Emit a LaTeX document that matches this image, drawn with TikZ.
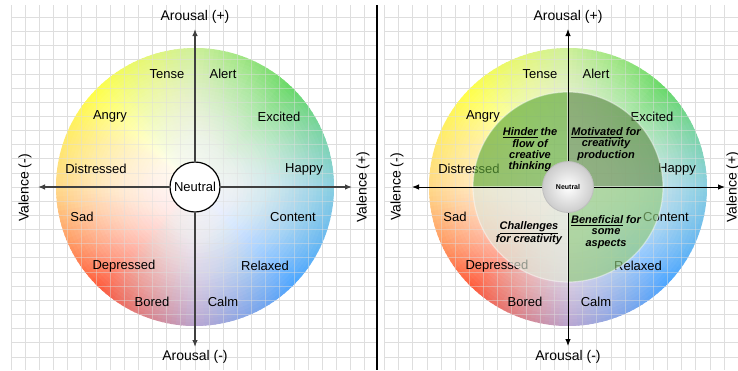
\documentclass[tikz,border=0pt]{standalone}
\usepackage{fontspec}
\setmainfont{Liberation Sans}
\usetikzlibrary{arrows.meta,calc}

\definecolor{hc0}{HTML}{8ACFE0}
\definecolor{hc1}{HTML}{66D966}
\definecolor{hc2}{HTML}{D0F09A}
\definecolor{hc3}{HTML}{FFFF45}
\definecolor{hc4}{HTML}{FFD888}
\definecolor{hc5}{HTML}{FF5A3A}
\definecolor{hc6}{HTML}{B8A6D2}
\definecolor{hc7}{HTML}{4AA5FF}
\definecolor{hc8}{HTML}{8ACFE0}
\definecolor{qUL}{HTML}{5FAA38}
\definecolor{qUR}{HTML}{5E8C48}
\definecolor{qLL}{HTML}{E0E7D7}
\definecolor{qLR}{HTML}{8FCA7A}

\tikzset{
  gridline/.style={draw=black!13, line width=0.8pt},
  emo/.style={font=\fontsize{13}{15}\selectfont, inner sep=0pt},
  axlabel/.style={font=\fontsize{14}{16}\selectfont, inner sep=0pt},
  axisL/.style={draw=black!75, line width=1.2pt, -{Latex[length=7pt,width=5.5pt]}},
  axisR/.style={draw=black, line width=0.9pt, -{Latex[length=7pt,width=5.5pt]}},
  quadtext/.style={font=\fontsize{11}{11.3}\selectfont\bfseries\itshape, align=center, inner sep=0pt},
  quad/.style={fill opacity=0.65, draw=white, draw opacity=0.45, line width=1.2pt},
}

\newcommand\GridLeft[1]{%
  \foreach \k in {0,...,25} \draw[gridline,#1] ({11+14.15*\k},5) -- ({11+14.15*\k},370);
  \foreach \k in {0,...,24} \draw[gridline,#1] (11,{17.3+14.15*\k}) -- (377,{17.3+14.15*\k});
}
\newcommand\GridRight[1]{%
  \foreach \k in {0,...,24} \draw[gridline,#1] ({384.5+14.15*\k},5) -- ({384.5+14.15*\k},370);
  \foreach \k in {0,...,24} \draw[gridline,#1] (384,{17.3+14.15*\k}) -- (738,{17.3+14.15*\k});
}

\newcommand\EmoWheel[2]{%
  \foreach \a in {0,2,...,358}{%
    \pgfmathtruncatemacro\ii{\a/45}%
    \pgfmathtruncatemacro\jj{\ii+1}%
    \pgfmathtruncatemacro\pp{(\a-45*\ii)*100/45}%
    \colorlet{wc}{hc\jj!\pp!hc\ii}%
    \fill[wc] (#2) -- ($(#2)+(\a:139pt)$) arc[start angle=\a, end angle=\a+2.6, radius=139pt] -- cycle;
  }
  \foreach \j in {1,...,40}{%
    \ifnum\j<40
      \pgfmathsetmacro\op{1-((\j-0.5)/(\j+0.5))^1.8}%
    \else
      \pgfmathsetmacro\op{1-(39.5/40)^1.8}%
    \fi
    \fill[white, fill opacity=\op] (#2) circle ({\j*139/40*1pt});
  }
}
\newcommand\EmoLabels[2]{%
  \foreach \n/\lab/\dx/\dy in {tense/Tense/-28/-113, alert/Alert/28/-113,
      angry/Angry/-85/-71, excited/Excited/84/-70,
      distressed/Distressed/-99/-18, happy/Happy/109/-18,
      sad/Sad/-113/30, content/Content/98/30,
      depressed/Depressed/-71/79, relaxed/Relaxed/70/79,
      bored/Bored/-43/115, calm/Calm/28/115}
    \node[emo] (#1\n) at ($(#2)+(\dx,\dy)$) {\lab};
}

\begin{document}
\begin{tikzpicture}[x=1pt, y=-1pt]
\useasboundingbox (0,0) rectangle (738,370);
\fill[white] (0,0) rectangle (738,370);

% grids
\GridLeft{}
\GridRight{}

% separator
\coordinate (sepT) at (377,5);
\coordinate (sepB) at (377,370);
\draw[line width=2pt] (sepT) -- (sepB);

% ---------- left panel ----------
\coordinate (cL) at (195,187);
\EmoWheel{L}{cL}
\begin{scope}
  \clip (cL) circle (139pt);
  \GridLeft{draw opacity=0.45}
\end{scope}
\EmoLabels{L}{cL}
\node[circle, draw=black, fill=white, line width=1.2pt, minimum size=50pt, inner sep=0pt, emo] (nL) at (cL) {Neutral};
\coordinate (uL) at (195,29);
\coordinate (dL) at (195,347);
\coordinate (lL) at (38,187);
\coordinate (rL) at (352,187);
\draw[axisL] (nL) -- (uL);
\draw[axisL] (nL) -- (dL);
\draw[axisL] (nL) -- (lL);
\draw[axisL] (nL) -- (rL);
\node[axlabel] (auL) at (195,17) {Arousal (+)};
\node[axlabel] (adL) at (195,357) {Arousal (-)};
\node[axlabel, rotate=90] (vmL) at (25,188) {Valence (-)};
\node[axlabel, rotate=90] (vpL) at (363,187) {Valence (+)};

% ---------- right panel ----------
\coordinate (cR) at (568,187);
\EmoWheel{R}{cR}
\begin{scope}
  \clip (cR) circle (139pt);
  \GridRight{draw opacity=0.45}
\end{scope}
\EmoLabels{R}{cR}
\fill[quad, fill=qUL] (cR) -- ($(cR)+(180:95pt)$) arc[start angle=180, end angle=90, radius=95pt] -- cycle;
\fill[quad, fill=qUR] (cR) -- ($(cR)+(90:95pt)$) arc[start angle=90, end angle=0, radius=95pt] -- cycle;
\fill[quad, fill=qLR] (cR) -- ($(cR)+(0:95pt)$) arc[start angle=0, end angle=-90, radius=95pt] -- cycle;
\fill[quad, fill=qLL] (cR) -- ($(cR)+(-90:95pt)$) arc[start angle=-90, end angle=-180, radius=95pt] -- cycle;
\node[quadtext] (tUL) at (530,150) {\underline{Hinder} the\\flow of\\creative\\thinking};
\node[quadtext] (tUR) at (606,144) {\underline{Motivated} for\\creativity\\production};
\node[quadtext] (tLL) at (529,233.5) {\underline{Challenges}\\for creativity};
\node[quadtext] (tLR) at (606,232) {\underline{Beneficial} for\\some\\aspects};
\node[circle, inner color=white, outer color=black!20, draw=black!25, line width=0.8pt, minimum size=51pt, inner sep=0pt, font=\fontsize{7}{8}\selectfont\bfseries] (nR) at (cR) {Neutral};
\coordinate (uR) at (568,29);
\coordinate (dR) at (568,346);
\coordinate (lR) at (412,187);
\coordinate (rR) at (725,187);
\draw[axisR] (nR) -- (uR);
\draw[axisR] (nR) -- (dR);
\draw[axisR] (nR) -- (lR);
\draw[axisR] (nR) -- (rR);
\node[axlabel] (auR) at (568,17) {Arousal (+)};
\node[axlabel] (adR) at (568,357) {Arousal (-)};
\node[axlabel, rotate=90] (vmR) at (397,187) {Valence (-)};
\node[axlabel, rotate=90] (vpR) at (733,187) {Valence (+)};
\end{tikzpicture}
\end{document}
